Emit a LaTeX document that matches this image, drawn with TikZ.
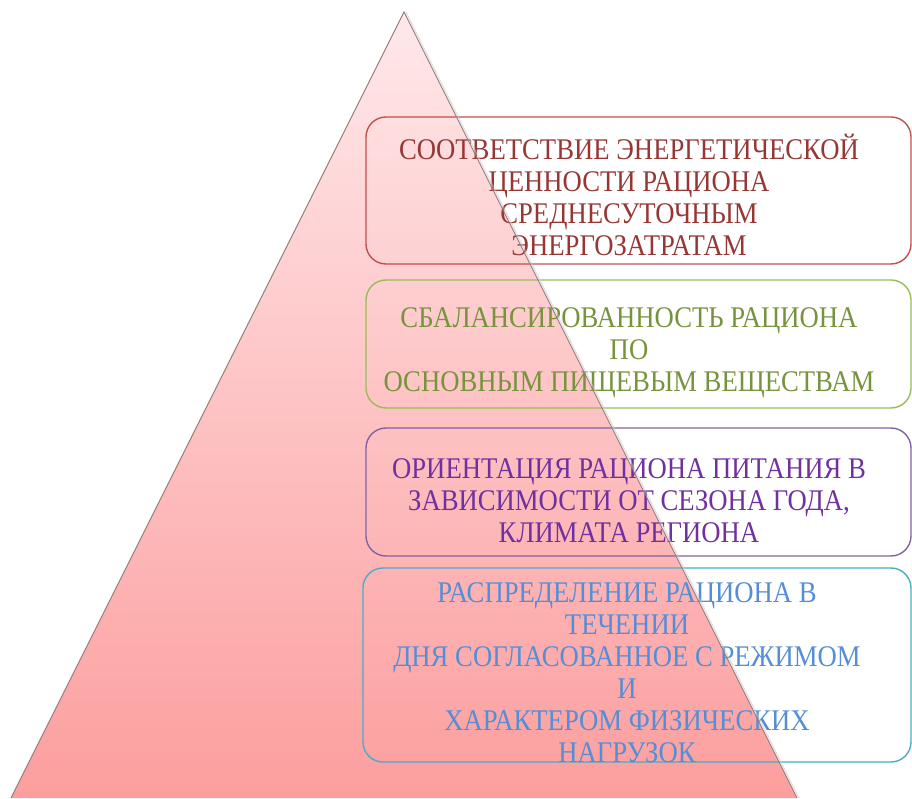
\documentclass[tikz,border=0pt]{standalone}
\usepackage{fontspec}
\setmainfont[FakeStretch=0.89]{Liberation Serif}
\begin{document}
\begin{tikzpicture}[x=1pt,y=1pt]
\definecolor{boxred}{RGB}{192,80,77}
\definecolor{boxgreen}{RGB}{155,187,89}
\definecolor{boxpurple}{RGB}{128,100,162}
\definecolor{boxteal}{RGB}{75,172,198}
\definecolor{txtred}{RGB}{150,55,53}
\definecolor{txtgreen}{RGB}{119,147,60}
\definecolor{txtpurple}{RGB}{112,48,160}
\definecolor{txtblue}{RGB}{85,142,213}
\definecolor{pinktop}{RGB}{255,232,234}
\definecolor{pinkbot}{RGB}{252,158,158}
\definecolor{edgegray}{RGB}{150,125,125}
\tikzset{
  frame/.style={draw, line width=1.4pt, rounded corners=20pt, fill=none, inner sep=0pt},
  label/.style={align=center, inner sep=0pt, font=\fontsize{30}{32}\selectfont}
}
\useasboundingbox (0,0) rectangle (912,798);
% pyramid
\coordinate (apex) at (404,786);
\coordinate (bl) at (11,0);
\coordinate (br) at (797,0);
\shade[top color=pinktop, bottom color=pinkbot] (apex) -- (br) -- (bl) -- cycle;
% boxes
\node[frame, draw=boxred, minimum width=545pt, minimum height=147pt] (b1) at (638.5,607.5) {};
\node[frame, draw=boxgreen, minimum width=545pt, minimum height=128pt] (b2) at (638.5,454) {};
\node[frame, draw=boxpurple, minimum width=545pt, minimum height=128pt] (b3) at (638.5,306) {};
\node[frame, draw=boxteal, minimum width=548pt, minimum height=194pt] (b4) at (637,133) {};
% texts
\node[label, text=txtred] (t1) at (629,603) {СООТВЕТСТВИЕ ЭНЕРГЕТИЧЕСКОЙ\\ЦЕННОСТИ РАЦИОНА\\СРЕДНЕСУТОЧНЫМ\\ЭНЕРГОЗАТРАТАМ};
\node[label, text=txtgreen] (t2) at (629,445) {СБАЛАНСИРОВАННОСТЬ РАЦИОНА\\ПО\\ОСНОВНЫМ ПИЩЕВЫМ ВЕЩЕСТВАМ};
\node[label, text=txtpurple] (t3) at (629,297.5) {ОРИЕНТАЦИЯ РАЦИОНА ПИТАНИЯ В\\ЗАВИСИМОСТИ ОТ СЕЗОНА ГОДА,\\КЛИМАТА РЕГИОНА};
\node[label, text=txtblue] (t4) at (627,125) {РАСПРЕДЕЛЕНИЕ РАЦИОНА В\\ТЕЧЕНИИ\\ДНЯ СОГЛАСОВАННОЕ С РЕЖИМОМ\\И\\ХАРАКТЕРОМ ФИЗИЧЕСКИХ\\НАГРУЗОК};
% pyramid outline
\draw[edgegray, line width=0.9pt, line join=miter] (bl) -- (apex) -- (br);
\draw[gray!40, line width=1.5pt, opacity=0.5] ([xshift=1.8pt]apex) -- ([xshift=1.8pt]br);
\end{tikzpicture}
\end{document}
